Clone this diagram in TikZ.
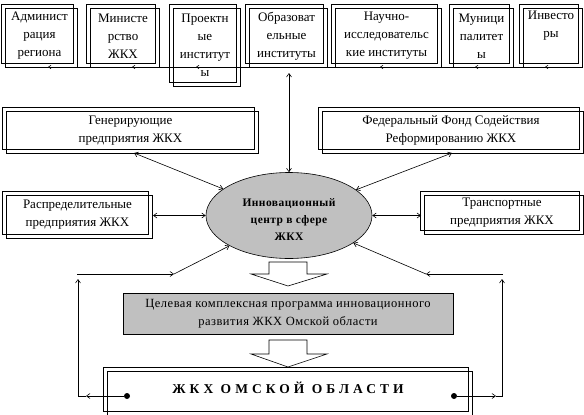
\documentclass[tikz,border=0pt]{standalone}
\usepackage{fontspec}
\setmainfont{Liberation Serif}
\usetikzlibrary{arrows.meta,shapes.geometric}
\definecolor{silver}{RGB}{192,192,192}
\newcommand\dblrect[1]{%
  \draw ([xshift=-2pt,yshift=2pt]#1.north west) rectangle ([xshift=-2pt,yshift=2pt]#1.south east);
  \draw ([xshift=2pt,yshift=-2pt]#1.north west) rectangle ([xshift=2pt,yshift=-2pt]#1.south east);}
\begin{document}
\begin{tikzpicture}[x=1pt,y=-1pt,line width=0.6pt,
  >={Straight Barb[length=3.5pt,width=5pt]},
  tb/.style={inner sep=0pt,align=center,font=\fontsize{13}{18}\selectfont},
  smalltip/.style={-{Straight Barb[length=2.5pt,width=3.5pt]}},
  blockarrow/.style={draw,fill=white}]
\useasboundingbox (0,0) rectangle (584,415);

% top row
\node[tb,minimum width=71pt,minimum height=58pt] (b1) at (39.5,36) {Админист\\рация\\региона};
\node[tb,minimum width=68pt,minimum height=58pt] (b2) at (123,36) {Министе\\рство\\ЖКХ};
\node[tb,minimum width=66pt,minimum height=77pt] (b3) at (205,45.5) {Проектн\\ые\\институт\\ы};
\node[tb,minimum width=77pt,minimum height=58pt] (b4) at (286.5,36) {Образоват\\ельные\\институты};
\node[tb,minimum width=105pt,minimum height=58pt] (b5) at (386.5,36) {Научно-\\исследовательс\\кие институты};
\node[tb,minimum width=59pt,minimum height=58pt] (b6) at (481.5,36) {Муници\\палитет\\ы};
\node[tb,minimum width=58pt,minimum height=58pt] (b7) at (551,36) {Инвесто\\ры\\\strut};
\foreach \n in {b1,b2,b3,b4,b5,b6,b7}{\dblrect{\n}}

% bus
\coordinate (busL) at (6,67);
\coordinate (busR) at (582,67);
\draw (busL) -- (busR);
\foreach \x in {48,132,196,380,475,545}{
  \coordinate (m) at (\x,67);
  \draw[smalltip] ([xshift=4pt]m) -- (m);
}

% side boxes
\node[tb,minimum width=251pt,minimum height=41pt] (gen) at (130.5,130.5) {Генерирующие\\предприятия ЖКХ};
\node[tb,minimum width=260pt,minimum height=41pt] (fed) at (451,130.5) {Федеральный Фонд Содействия\\Реформированию ЖКХ};
\node[tb,minimum width=145pt,minimum height=42pt] (ras) at (77.5,215) {Распределительные\\предприятия ЖКХ};
\node[tb,minimum width=158pt,minimum height=38pt] (tra) at (502,213) {Транспортные\\предприятия ЖКХ};
\foreach \n in {gen,fed,ras,tra}{\dblrect{\n}}

% centre
\node[ellipse,draw,fill=silver,minimum width=166pt,minimum height=86pt,inner sep=0pt] (c) at (289,215.5) {};
\node[align=center,inner sep=0pt,font=\fontsize{11.5}{17}\selectfont\bfseries\addfontfeatures{LetterSpace=4}] (ct) at (289,220) {Инновационный\\центр в сфере\\ЖКХ};

% connectors to centre
\coordinate (vt) at (289,73);
\draw[<->] (c) -- (vt);
\coordinate (ga) at (134,153);
\draw[<->] (ga) -- (c);
\coordinate (fa) at (452,153);
\draw[<->] (fa) -- (c);
\coordinate (ra) at (153,215.5);
\draw[<->] (ra) -- (c);
\coordinate (ta) at (421,215.5);
\draw[<->] (c) -- (ta);

% block arrows
\draw[blockarrow] (269,262) -- (307,262) -- (307,274) -- (327,274) -- (288,286) -- (251,274) -- (269,274) -- cycle;
\node[draw,fill=silver,minimum width=330pt,minimum height=41pt,inner sep=0pt,align=center,
  font=\fontsize{12.5}{18}\selectfont\addfontfeatures{LetterSpace=4}] (prog) at (288,313.5)
  {Целевая комплексная программа инновационного\\развития ЖКХ Омской области};
\draw[blockarrow] (269,340) -- (307,340) -- (307,354) -- (327,354) -- (288,367) -- (251,354) -- (269,354) -- cycle;

% bottom box
\node[minimum width=364pt,minimum height=43pt,inner sep=0pt] (zk) at (288,391) {};
\dblrect{zk}
\node[inner sep=0pt,font=\fontsize{13.5}{16}\selectfont\bfseries\addfontfeatures{LetterSpace=30}] (zt) at (288,388) {ЖКХ ОМСКОЙ ОБЛАСТИ};
\node[circle,fill,inner sep=0pt,minimum size=6pt] (dL) at (127,396) {};
\node[circle,fill,inner sep=0pt,minimum size=6pt] (dR) at (454,396) {};

% left loop
\coordinate (l1) at (86,396);
\coordinate (l2) at (78,396);
\coordinate (l3) at (78,279);
\coordinate (l4) at (77,274);
\coordinate (l5) at (174,274);
\draw[->] (dL) -- (l1);
\draw[->] (l1) -- (l2) -- (l3);
\draw[->] (l4) -- (l5);
\draw[->] (l5) -- (c);

% right loop
\coordinate (r1) at (496,396);
\coordinate (r2) at (502,396);
\coordinate (r3) at (502,279);
\coordinate (r4) at (503,274);
\coordinate (r5) at (426,274);
\draw[->] (dR) -- (r1);
\draw[->] (r1) -- (r2) -- (r3);
\draw[->] (r4) -- (r5);
\draw[->] (r5) -- (c);
\end{tikzpicture}
\end{document}
